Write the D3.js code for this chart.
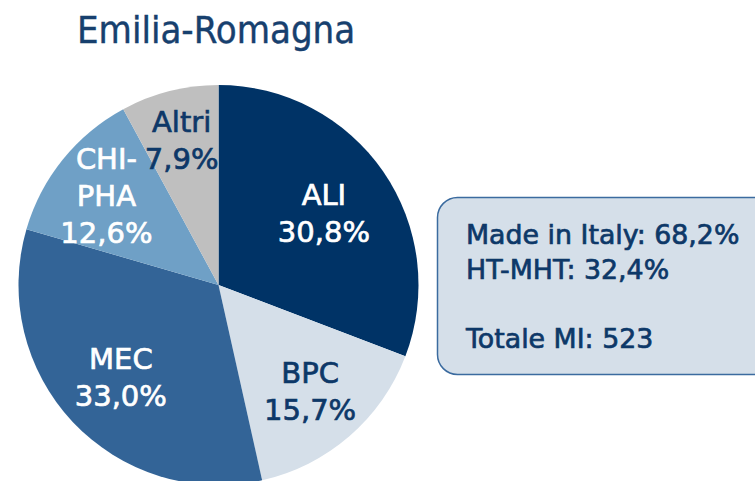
<!DOCTYPE html>
<html>
<head>
<meta charset="utf-8">
<script src="https://cdn.jsdelivr.net/npm/d3@7"></script>
<style>
  body { margin: 0; background: #fff; }
  svg { display: block; }
  text { font-family: "DejaVu Sans", sans-serif; }
</style>
</head>
<body>
<svg id="chart" width="755" height="481"></svg>
<script>
// data
var title = "Emilia-Romagna";
var categories = ["ALI", "BPC", "MEC", "CHI-PHA", "Altri"];
var shares = [30.8, 15.7, 33.0, 12.6, 7.9];
var boxLines = ["Made in Italy: 68,2%", "HT-MHT: 32,4%", "", "Totale MI: 523"];

var navy = "#0d3868";
var fill = d3.scaleOrdinal().domain(categories)
    .range(["#003366", "#d5dfe9", "#336497", "#6fa0c6", "#bfbfbf"]);
var ink = d3.scaleOrdinal().domain(categories)
    .range(["#ffffff", navy, "#ffffff", "#ffffff", navy]);
// how far out each label sits (fraction of radius)
var labelR = d3.scaleOrdinal().domain(categories).range([0.64, 0.7, 0.67, 0.72, 0.75]);

var svg = d3.select("#chart");
var cx = 218.5, cy = 285, r = 200;

svg.append("text")
    .attr("x", 77).attr("y", 43)
    .attr("font-size", "38px")
    .style("font-family", "'DejaVu Sans Condensed', 'DejaVu Sans', sans-serif")
    .style("font-stretch", "condensed")
    .attr("fill", "#17406e")
    .attr("stroke", "#17406e")
    .attr("stroke-width", 0.4)
    .text(title);

var pie = d3.pie().sort(null).value(function (d) { return d.v; });
var arc = d3.arc().innerRadius(0).outerRadius(r);
var data = categories.map(function (c, i) { return { name: c, v: shares[i] }; });
var arcs = pie(data);

var g = svg.append("g").attr("transform", "translate(" + cx + "," + cy + ")");

g.selectAll("path.slice")
    .data(arcs)
    .enter().append("path")
    .attr("class", "slice")
    .attr("d", arc)
    .attr("fill", function (d) { return fill(d.data.name); });

var lineH = 37;
arcs.forEach(function (d) {
    var lr = labelR(d.data.name) * r;
    var c = d3.arc().innerRadius(lr).outerRadius(lr).centroid(d);
    var name = d.data.name;
    var lines = name.indexOf("-") > 0 ? [name.slice(0, name.indexOf("-") + 1), name.slice(name.indexOf("-") + 1)] : [name];
    lines.push(d3.format(".1f")(d.data.v).replace(".", ",") + "%");
    var t = g.append("text")
        .attr("text-anchor", "middle")
        .attr("font-size", "29px")
        .attr("fill", ink(name))
        .attr("stroke", ink(name))
        .attr("stroke-width", 0.7);
    lines.forEach(function (s, i) {
        t.append("tspan")
            .attr("x", c[0])
            .attr("y", c[1] + (i - (lines.length - 1) / 2) * lineH + 11)
            .text(s);
    });
});

// info box on the right
svg.append("rect")
    .attr("x", 437.5).attr("y", 197.5)
    .attr("width", 360).attr("height", 177)
    .attr("rx", 20).attr("ry", 20)
    .attr("fill", "#d5dfe9")
    .attr("stroke", "#3b6b9f")
    .attr("stroke-width", 1.5);

var bt = svg.append("text")
    .attr("font-size", "26.8px")
    .attr("fill", navy)
    .attr("stroke", navy)
    .attr("stroke-width", 0.7);
boxLines.forEach(function (s, i) {
    bt.append("tspan").attr("x", 466).attr("y", 244 + i * 34.5).text(s);
});
</script>
</body>
</html>
